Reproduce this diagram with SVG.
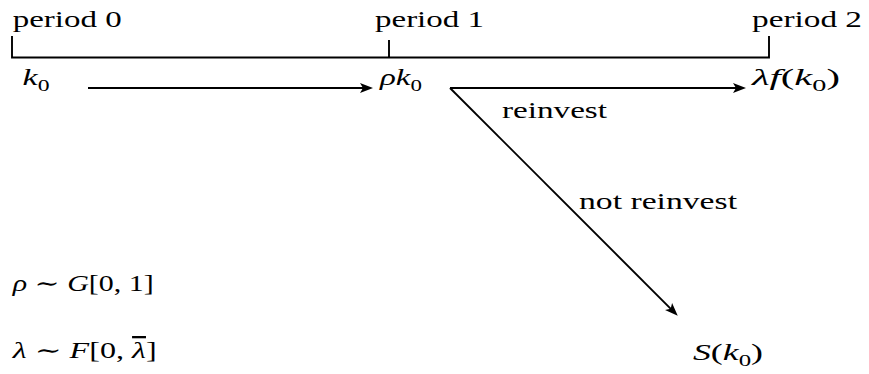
<svg xmlns="http://www.w3.org/2000/svg" width="869" height="374" viewBox="0 0 869 374">
<style>
  text { font-family: "Liberation Serif", "DejaVu Serif", serif; font-size: 23px; fill: #000; }
  .m { font-style: italic; }
  .sub { font-size: 16px; font-style: normal; }
  .up { font-style: normal; }
  .bar { text-decoration: overline; }
  .ln { stroke: #000; stroke-width: 1.9; fill: none; }
</style>
<defs>
  <marker id="ah" markerUnits="userSpaceOnUse" orient="auto" refX="0" refY="0" markerWidth="20" markerHeight="20" viewBox="-10 -8 20 16" overflow="visible">
    <path d="M7,0 L-6,-5 L-3,0 L-6,5 Z" fill="#000"/>
  </marker>
</defs>

<g id="timeline">
  <path class="ln" d="M12,36 L12,57.5 L769,57.5 L769,36 M389,40 L389,57.5"/>
  <text x="12.7" y="27.3" textLength="109" lengthAdjust="spacingAndGlyphs">period 0</text>
  <text x="375" y="27.3" textLength="109" lengthAdjust="spacingAndGlyphs">period 1</text>
  <text x="752" y="27.3" textLength="110" lengthAdjust="spacingAndGlyphs">period 2</text>
</g>

<g id="n-k0">
  <text x="22.5" y="85" textLength="27" lengthAdjust="spacingAndGlyphs"><tspan class="m">k</tspan><tspan class="sub" dy="6">0</tspan></text>
</g>

<g id="n-rhok0">
  <text x="380" y="85" textLength="42" lengthAdjust="spacingAndGlyphs"><tspan class="m">ρk</tspan><tspan class="sub" dy="6">0</tspan></text>
</g>

<g id="n-lambdaf">
  <text x="752" y="85" textLength="88" lengthAdjust="spacingAndGlyphs"><tspan class="m">λf</tspan><tspan class="up">(</tspan><tspan class="m">k</tspan><tspan class="sub" dy="6">0</tspan><tspan class="up" dy="-6">)</tspan></text>
</g>

<g id="n-S">
  <text x="693" y="360" textLength="70" lengthAdjust="spacingAndGlyphs"><tspan class="m">S</tspan><tspan class="up">(</tspan><tspan class="m">k</tspan><tspan class="sub" dy="6">0</tspan><tspan class="up" dy="-6">)</tspan></text>
</g>

<g id="connectors">
  <line class="ln" x1="88" y1="88" x2="366" y2="88" marker-end="url(#ah)"/>
  <line class="ln" x1="450" y1="88" x2="739" y2="88" marker-end="url(#ah)"/>
  <line class="ln" x1="450" y1="88" x2="672.8" y2="310.8" marker-end="url(#ah)"/>
  <text x="502" y="118" textLength="105" lengthAdjust="spacingAndGlyphs">reinvest</text>
  <text x="579" y="209" textLength="158" lengthAdjust="spacingAndGlyphs">not reinvest</text>
</g>

<g id="legend">
  <text x="12.7" y="291" textLength="141" lengthAdjust="spacingAndGlyphs"><tspan class="m">ρ</tspan><tspan class="up"> ∼ </tspan><tspan class="m">G</tspan><tspan class="up">[0, 1]</tspan></text>
  <text x="12.7" y="358" textLength="144" lengthAdjust="spacingAndGlyphs"><tspan class="m">λ</tspan><tspan class="up"> ∼ </tspan><tspan class="m">F</tspan><tspan class="up">[0, </tspan><tspan class="m bar">λ</tspan><tspan class="up">]</tspan></text>
</g>
</svg>
